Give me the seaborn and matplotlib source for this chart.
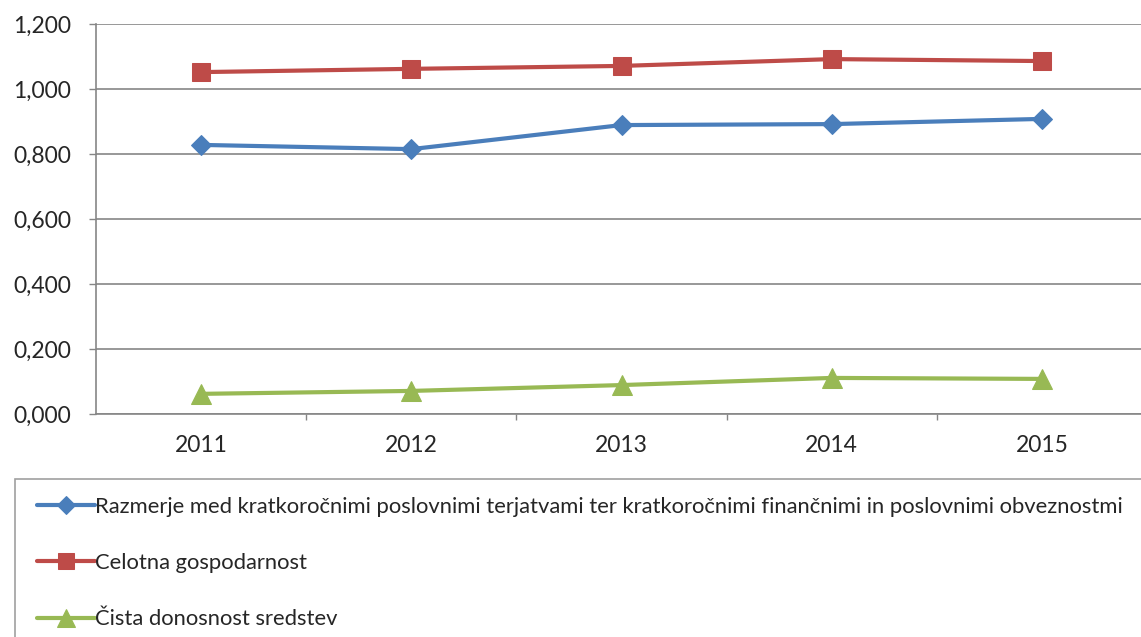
import matplotlib
matplotlib.use("Agg")
import matplotlib.pyplot as plt
import matplotlib.ticker as mticker
from matplotlib.patches import Rectangle
import seaborn as sns
import pandas as pd

# data
years = ["2011", "2012", "2013", "2014", "2015"]
razmerje = [0.828, 0.815, 0.889, 0.892, 0.908]
gospodarnost = [1.052, 1.062, 1.071, 1.092, 1.086]
donosnost = [0.062, 0.071, 0.089, 0.111, 0.108]

labels = [
    "Razmerje med kratkoročnimi poslovnimi terjatvami ter kratkoročnimi finančnimi in poslovnimi obveznostmi",
    "Celotna gospodarnost",
    "Čista donosnost sredstev",
]
series = [razmerje, gospodarnost, donosnost]
colors = ["#4A7EBB", "#BE4B48", "#98B954"]
markers = ["D", "s", "^"]
msizes = [10, 13, 14]

sns.set_style("white")
plt.rcParams["font.family"] = ["Lato", "DejaVu Sans"]

W, H = 1141, 637
fig = plt.figure(figsize=(W / 100, H / 100), dpi=100)
left, right, top, bottom = 96, 1141, 24, 414
ax = fig.add_axes([left / W, 1 - bottom / H, (right - left) / W, (bottom - top) / H])

grid_c = "#868686"
x = list(range(len(years)))
for vals, lab, c, m, ms in zip(series, labels, colors, markers, msizes):
    df = pd.DataFrame({"x": x, "y": vals})
    sns.lineplot(data=df, x="x", y="y", ax=ax, color=c, marker=m, markersize=ms,
                 linewidth=3, markeredgecolor=c, label=lab, zorder=3, legend=False)

ax.set_ylim(0, 1.2)
ax.set_xlim(-0.5, -0.5 + 5 * (right - left) / (1147 - left))
ax.set_yticks([0, 0.2, 0.4, 0.6, 0.8, 1.0, 1.2])
ax.yaxis.set_major_formatter(mticker.FuncFormatter(lambda v, p: f"{v:.3f}".replace(".", ",")))
ax.set_xticks(x)
ax.set_xticklabels(years)
ax.set_xticks([0.5, 1.5, 2.5, 3.5], minor=True)
ax.set_xlabel("")
ax.set_ylabel("")

ax.grid(axis="y", color=grid_c, linewidth=1.2, zorder=0)
ax.grid(axis="x", visible=False)
for s in ["top", "right"]:
    ax.spines[s].set_visible(False)
ax.spines["left"].set_color(grid_c)
ax.spines["left"].set_linewidth(1.2)
ax.spines["bottom"].set_color(grid_c)
ax.spines["bottom"].set_linewidth(1.2)

ax.tick_params(axis="y", length=5, width=1, color=grid_c, pad=13, labelsize=16.5, left=True)
ax.tick_params(axis="x", which="major", length=0, pad=15, labelsize=16.5, bottom=False)
ax.tick_params(axis="x", which="minor", length=4, width=1, color=grid_c, bottom=True)

# legend box below the plot
fig.patches.append(Rectangle((15 / W, -0.1), 1.2, (H - 479) / H + 0.1, transform=fig.transFigure,
                             fill=False, edgecolor="#A0A0A0", linewidth=1.2, zorder=0))
handles, lbls = ax.get_legend_handles_labels()
fig.legend(handles, lbls, loc="upper left", bbox_to_anchor=(28 / W, 1 - 488 / H),
           frameon=False, fontsize=15.8, handlelength=2.65, handletextpad=0.0,
           labelspacing=1.65, borderaxespad=0, markerscale=0.9)

fig.savefig("out.png", dpi=100)
